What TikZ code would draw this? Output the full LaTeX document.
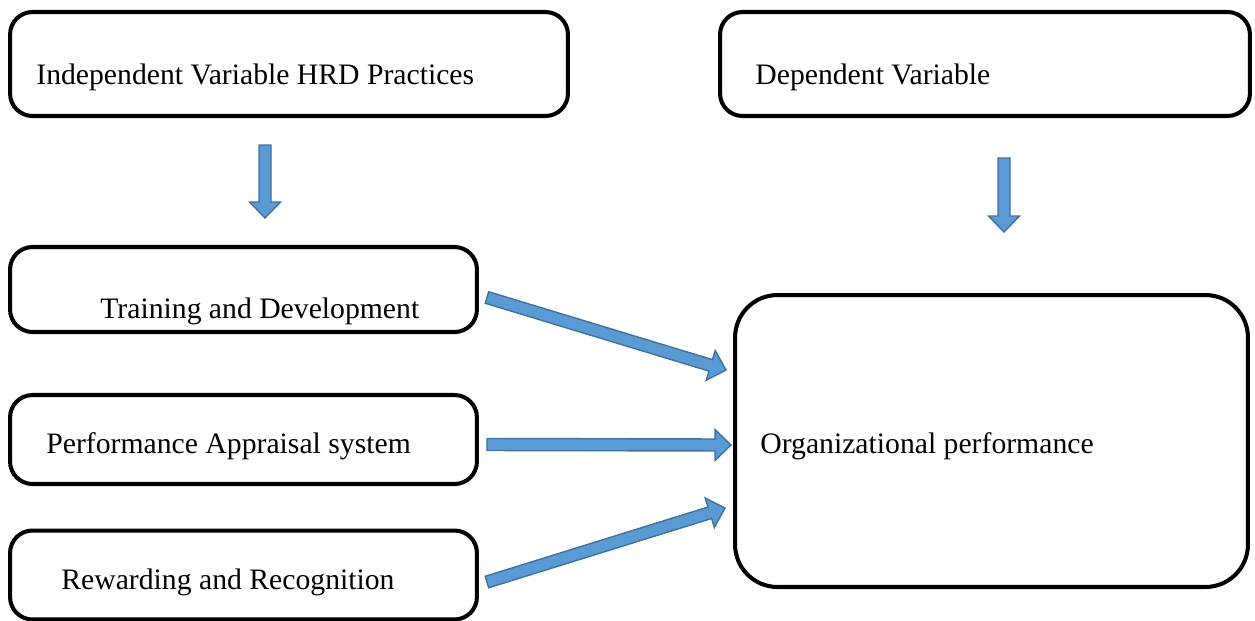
\documentclass[tikz,border=0pt]{standalone}
\usepackage{fontspec}
\setmainfont{Liberation Serif}
\usepackage{tikz}
\usetikzlibrary{calc, positioning}

\definecolor{arrowblue}{HTML}{5B9BD5}
\definecolor{arrowedge}{HTML}{41719C}

\tikzset{
	varbox/.style = {draw, line width=2.3pt, rounded corners=0.45cm, inner sep=0pt},
	bigbox/.style = {varbox, rounded corners=0.85cm},
	boxtext/.style = {anchor=west, inner sep=0pt, font=\fontsize{16.9}{20}\selectfont},
	arrowbody/.style = {fill=arrowblue, draw=arrowedge, line width=0.8pt, line join=miter}
}

% block arrow from #1 to #2
\newcommand{\blockarrow}[2]{
	\coordinate (tipbase) at ($(#2)!0.32cm!(#1)$);
	\draw [arrowbody] ($(#1)!0.12cm!90:(#2)$) -- ($(tipbase)!0.12cm!90:(#2)$)
		-- ($(tipbase)!0.31cm!90:(#2)$) -- (#2)
		-- ($(tipbase)!0.31cm!-90:(#2)$) -- ($(tipbase)!0.12cm!-90:(#2)$)
		-- ($(#1)!0.12cm!-90:(#2)$) -- cycle;
}

\begin{document}
\begin{tikzpicture}[x = 0.02cm, y = -0.02cm]
			\useasboundingbox (0,0) rectangle (1255,620);

			% variable headings
			\node [varbox, minimum width=11.16cm, minimum height=2.08cm] (indep) at (289,64) {};
			\node [boxtext] (indeptext) at ($(indep.west)+(28,13)$) {Independent Variable HRD Practices};

			\node [varbox, minimum width=10.6cm, minimum height=2.08cm] (dep) at (985,64) {};
			\node [boxtext] (deptext) at ($(dep.west)+(37,13)$) {Dependent Variable};

			% practices
			\node [varbox, minimum width=9.34cm, minimum height=1.7cm] (train) at (243.5,289.5) {};
			\node [boxtext] (traintext) at ($(train.west)+(92,22)$) {Training and Development};

			\node [varbox, minimum width=9.34cm, minimum height=1.78cm] (apprais) at (243.5,439.5) {};
			\node [boxtext] (appraistext) at ($(apprais.west)+(38,7)$) {Performance Appraisal system};

			\node [varbox, minimum width=9.34cm, minimum height=1.78cm] (reward) at (243.5,575) {};
			\node [boxtext] (rewardtext) at ($(reward.west)+(53,7)$) {Rewarding and Recognition};

			% outcome
			\node [bigbox, minimum width=10.26cm, minimum height=5.84cm] (orgperf) at (991.5,441) {};
			\node [boxtext] (orgperftext) at ($(orgperf.west)+(27,5)$) {Organizational performance};

			% arrows
			\coordinate (indepdown) at (265,145);
			\coordinate (independ) at (265,218);
			\coordinate (depdown) at (1004,158);
			\coordinate (depend) at (1004,232);

			\blockarrow{indepdown}{independ}
			\blockarrow{depdown}{depend}

			\blockarrow{$(train.east)+(8,8)$}{$(orgperf.west)+(-7,-71)$}
			\blockarrow{$(apprais.east)+(8,5)$}{$(orgperf.west)+(-2,4)$}
			\blockarrow{$(reward.east)+(8,7)$}{$(orgperf.west)+(-8,67)$}
		\end{tikzpicture}
\end{document}
